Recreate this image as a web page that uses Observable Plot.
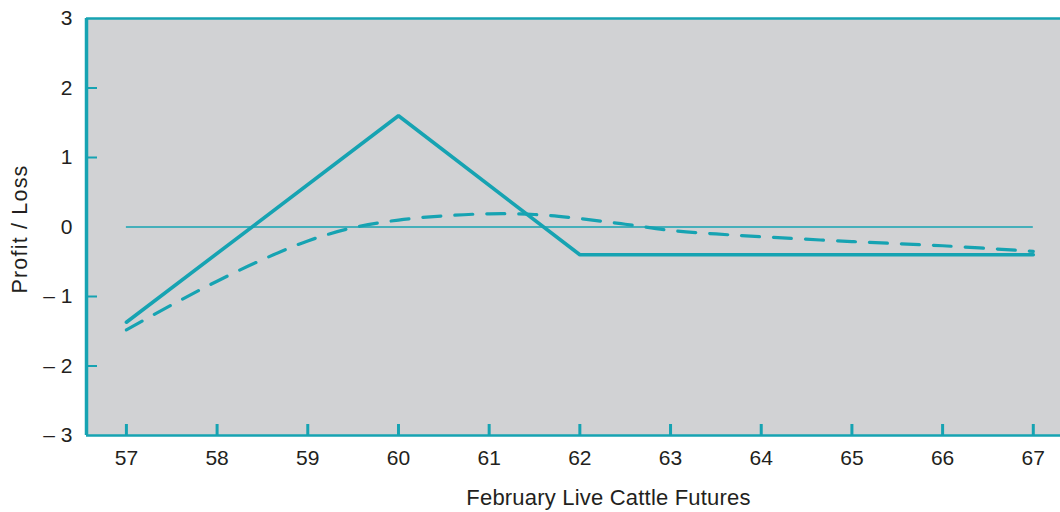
<!DOCTYPE html>
<html>
<head>
<meta charset="utf-8">
<script src="https://cdn.jsdelivr.net/npm/d3@7"></script>
<script src="https://cdn.jsdelivr.net/npm/@observablehq/plot@0.6"></script>
<style>
  html, body { margin: 0; padding: 0; background: #fff; }
  #chart svg { display: block; }
</style>
</head>
<body>
<div id="chart"></div>
<script>
// Data
const xTicks = [57, 58, 59, 60, 61, 62, 63, 64, 65, 66, 67];
const yTicks = [-3, -2, -1, 0, 1, 2, 3];
const expiryX = [57, 60, 62, 67];
const expiryPL = [-1.37, 1.6, -0.4, -0.4];
const beforeX = [57, 57.5, 58, 58.5, 59, 59.5, 60, 60.5, 61, 61.5, 62, 62.5, 63, 63.5, 64, 65, 66, 67];
const beforePL = [-1.48, -1.12, -0.78, -0.47, -0.2, -0.01, 0.1, 0.16, 0.19, 0.18, 0.12, 0.04, -0.05, -0.1, -0.14, -0.21, -0.27, -0.35];
const xLabel = "February Live Cattle Futures";
const yLabel = "Profit / Loss";

const teal = "#16a3b2";
const gray = "#d1d2d4";
const ink = "#231f20";
const W = 1060, H = 512;
const mL = 86, mR = 0, mT = 18, mB = 77;
const xDomain = [56.56, 67.3];
const yDomain = [-3, 3];
const pxX = (xDomain[1] - xDomain[0]) / (W - mL - mR);
const pxY = (yDomain[1] - yDomain[0]) / (H - mT - mB);

const expiry = expiryX.map((x, i) => ({x, y: expiryPL[i]}));
const before = beforeX.map((x, i) => ({x, y: beforePL[i]}));
const fmtY = d => d < 0 ? "\u2013 " + Math.abs(d) : String(d);

const chart = Plot.plot({
  width: W,
  height: H,
  marginLeft: mL,
  marginRight: mR,
  marginTop: mT,
  marginBottom: mB,
  x: {domain: xDomain},
  y: {domain: yDomain},
  style: {fontFamily: "'Liberation Sans', Arial, sans-serif", fontSize: "21px", color: ink, background: "#fff"},
  marks: [
    Plot.frame({fill: gray, stroke: "none"}),
    Plot.axisX(xTicks, {tickSize: 0, tickPadding: 15, fontSize: 21, label: null, fill: ink}),
    Plot.axisY(yTicks, {tickSize: 0, tickPadding: 14, fontSize: 21, label: null, tickFormat: fmtY, fill: ink}),
    // zero line
    Plot.ruleY([0], {x1: xTicks[0], x2: xTicks[xTicks.length - 1], stroke: teal, strokeWidth: 1.5}),
    // inward ticks
    Plot.ruleX(xTicks, {x: d => d, y1: yDomain[0], y2: yDomain[0] + 11 * pxY, stroke: teal, strokeWidth: 3}),
    Plot.ruleY(yTicks.filter(d => d > yDomain[0] && d < yDomain[1] && d !== 0), {y: d => d, x1: xDomain[0], x2: xDomain[0] + 11 * pxX, stroke: teal, strokeWidth: 2}),
    // borders
    Plot.ruleY([yDomain[1]], {stroke: teal, strokeWidth: 2.5}),
    Plot.ruleY([yDomain[0]], {stroke: teal, strokeWidth: 2.5}),
    Plot.ruleX([xDomain[0]], {stroke: teal, strokeWidth: 3.5}),
    // lines
    Plot.line(before, {x: "x", y: "y", curve: "catmull-rom", stroke: teal, strokeWidth: 3.2, strokeDasharray: "18,14"}),
    Plot.line(expiry, {x: "x", y: "y", stroke: teal, strokeWidth: 3.6, strokeLinejoin: "miter"}),
    // axis titles
    Plot.text([xLabel], {text: d => d, frameAnchor: "bottom", lineAnchor: "middle", dx: 35, dy: 62, fontSize: 22, fill: ink}),
    Plot.text([yLabel], {text: d => d, frameAnchor: "left", textAnchor: "middle", lineAnchor: "middle", rotate: -90, dx: -66, dy: 2, fontSize: 21.5, fill: ink})
  ]
});
d3.select(chart).selectAll("text").each(function() {
  if (this.textContent === yLabel) d3.select(this).attr("letter-spacing", "1.2px");
  if (this.textContent === xLabel) d3.select(this).attr("letter-spacing", "0.2px");
});
document.getElementById("chart").appendChild(chart);
</script>
</body>
</html>
